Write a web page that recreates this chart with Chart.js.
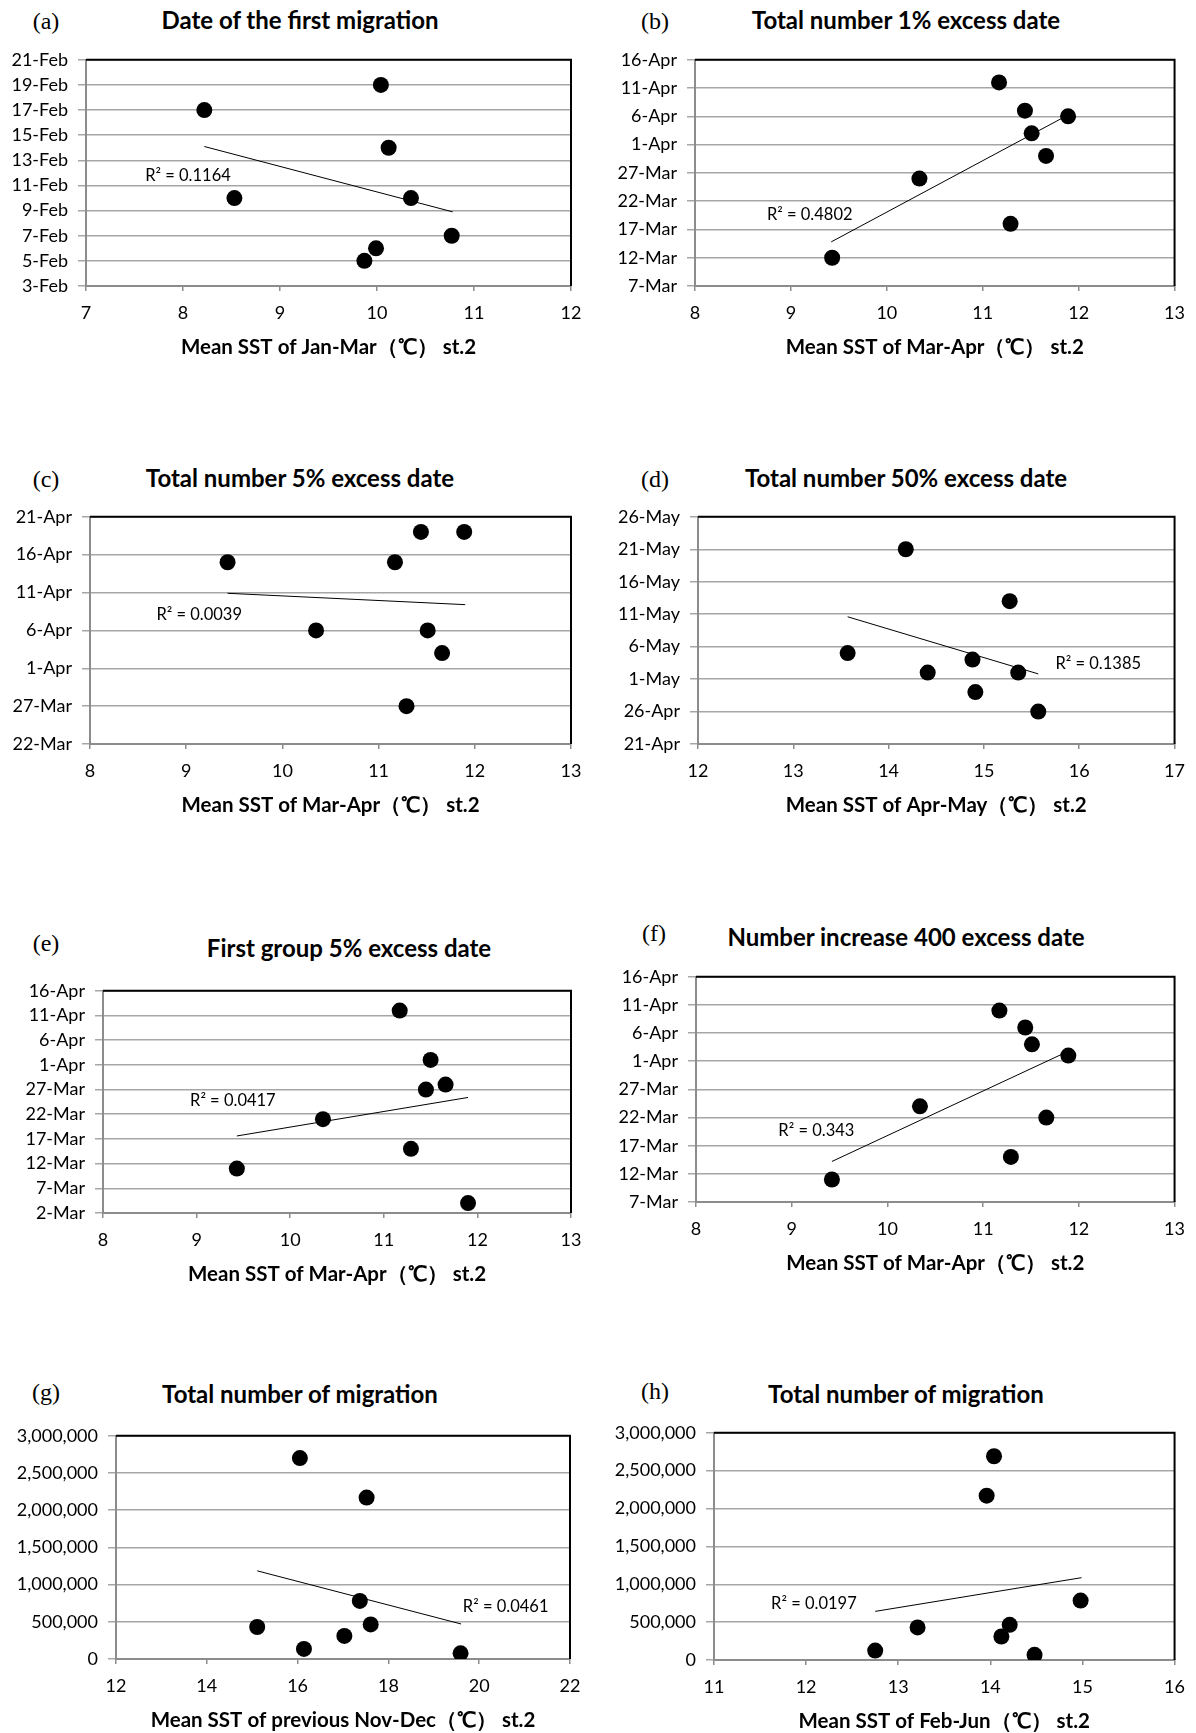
<!DOCTYPE html>
<html>
<head>
<meta charset="utf-8">
<script src="https://cdn.jsdelivr.net/npm/chart.js@4.4.1/dist/chart.umd.min.js"></script>
<style>
    html, body { margin: 0; padding: 0; background: #fff; overflow: hidden; }
    body { width: 1196px; height: 1733px; position: relative; font-family: Lato, "Noto Sans", sans-serif; color: #000; }
    .panel { position: absolute; }
    .title { position: absolute; transform: translate(-50%, -50%); font-weight: bold; font-size: 24px; white-space: nowrap; }
    .tag { position: absolute; transform: translate(-50%, -50%); font-family: "Liberation Serif", "DejaVu Serif", serif; font-size: 24px; }
</style>
</head>
<body>
<script>
// ---- data ----
const monthStarts = { Jan: 0, Feb: 31, Mar: 59, Apr: 90, May: 120, Jun: 151 };

// (a) date of the first migration vs mean SST Jan-Mar
const sstJanMar = [8.22, 10.04, 10.12, 8.53, 10.35, 10.77, 9.99, 9.87];
const firstMigrationDate = ['17-Feb', '19-Feb', '14-Feb', '10-Feb', '10-Feb', '7-Feb', '6-Feb', '5-Feb'];
const trendAx = [8.22, 10.78];
const trendAy = ['14.1-Feb', '8.9-Feb'];
const yTicksA = ['3-Feb', '5-Feb', '7-Feb', '9-Feb', '11-Feb', '13-Feb', '15-Feb', '17-Feb', '19-Feb', '21-Feb'];
const xTicksA = [7, 8, 9, 10, 11, 12];

// (b) total number 1% excess date vs mean SST Mar-Apr
const sstMarAprB = [11.17, 11.44, 11.89, 11.51, 11.66, 10.34, 11.29, 9.43];
const excess1Date = ['12-Apr', '7-Apr', '6-Apr', '3-Apr', '30-Mar', '26-Mar', '18-Mar', '12-Mar'];
const trendBx = [9.42, 11.83];
const trendBy = ['14.8-Mar', '5.7-Apr'];
const yTicksB = ['7-Mar', '12-Mar', '17-Mar', '22-Mar', '27-Mar', '1-Apr', '6-Apr', '11-Apr', '16-Apr'];
const xTicksB = [8, 9, 10, 11, 12, 13];

// (c) total number 5% excess date vs mean SST Mar-Apr
const sstMarAprC = [11.44, 11.89, 9.43, 11.17, 10.35, 11.51, 11.66, 11.29];
const excess5Date = ['19-Apr', '19-Apr', '15-Apr', '15-Apr', '6-Apr', '6-Apr', '3-Apr', '27-Mar'];
const trendCx = [9.43, 11.9];
const trendCy = ['10.9-Apr', '9.4-Apr'];
const yTicksC = ['22-Mar', '27-Mar', '1-Apr', '6-Apr', '11-Apr', '16-Apr', '21-Apr'];
const xTicksC = [8, 9, 10, 11, 12, 13];

// (d) total number 50% excess date vs mean SST Apr-May
const sstAprMay = [14.18, 15.27, 13.57, 14.88, 14.41, 15.36, 14.91, 15.57];
const excess50Date = ['21-May', '13-May', '5-May', '4-May', '2-May', '2-May', '29-Apr', '26-Apr'];
const trendDx = [13.57, 15.57];
const trendDy = ['10.6-May', '1.8-May'];
const yTicksD = ['21-Apr', '26-Apr', '1-May', '6-May', '11-May', '16-May', '21-May', '26-May'];
const xTicksD = [12, 13, 14, 15, 16, 17];

// (e) first group 5% excess date vs mean SST Mar-Apr
const sstMarAprE = [11.17, 11.50, 11.66, 11.45, 10.35, 11.29, 9.43, 11.90];
const firstGroupDate = ['12-Apr', '2-Apr', '28-Mar', '27-Mar', '21-Mar', '15-Mar', '11-Mar', '4-Mar'];
const trendEx = [9.43, 11.9];
const trendEy = ['17.6-Mar', '25.4-Mar'];
const yTicksE = ['2-Mar', '7-Mar', '12-Mar', '17-Mar', '22-Mar', '27-Mar', '1-Apr', '6-Apr', '11-Apr', '16-Apr'];
const xTicksE = [8, 9, 10, 11, 12, 13];

// (f) number increase 400 excess date vs mean SST Mar-Apr
const sstMarAprF = [11.17, 11.44, 11.51, 11.89, 10.34, 11.66, 11.29, 9.42];
const increase400Date = ['10-Apr', '7-Apr', '4-Apr', '2-Apr', '24-Mar', '22-Mar', '15-Mar', '11-Mar'];
const trendFx = [9.42, 11.83];
const trendFy = ['14.2-Mar', '2.3-Apr'];
const yTicksF = ['7-Mar', '12-Mar', '17-Mar', '22-Mar', '27-Mar', '1-Apr', '6-Apr', '11-Apr', '16-Apr'];
const xTicksF = [8, 9, 10, 11, 12, 13];

// (g) total number of migration vs mean SST of previous Nov-Dec
const sstNovDec = [16.05, 17.52, 17.37, 17.61, 15.11, 17.03, 16.14, 19.59];
const totalG = [2700000, 2170000, 780000, 465000, 430000, 310000, 135000, 76000];
const trendGx = [15.11, 19.6];
const trendGy = [1185000, 471000];
const yTicksCount = [0, 500000, 1000000, 1500000, 2000000, 2500000, 3000000];
const xTicksG = [12, 14, 16, 18, 20, 22];

// (h) total number of migration vs mean SST Feb-Jun
const sstFebJun = [14.04, 13.96, 14.98, 14.21, 13.21, 14.12, 12.75, 14.48];
const totalH = [2690000, 2170000, 785000, 465000, 430000, 310000, 125000, 68000];
const trendHx = [12.75, 14.99];
const trendHy = [642000, 1087000];
const xTicksH = [11, 12, 13, 14, 15, 16];

// day of year from "d-Mon" (day may be fractional)
const toDay = (s) => {
    if (typeof s === 'number') return s;
    const [d, m] = s.split('-');
    return monthStarts[m] + parseFloat(d);
};

const panels = [
    { tag: '(a)', tagPos: [46, 21], title: 'Date of the first migration', titlePos: [300, 19],
      xTitle: 'Mean SST of Jan-Mar（℃） st.2', xs: sstJanMar, ys: firstMigrationDate,
      tx: trendAx, ty: trendAy, xTicks: xTicksA, yTicks: yTicksA,
      r2: 'R² = 0.1164', r2At: [7.61, '11.8-Feb'], col: 0, box: { l: 86, r: 571, t: 53, b: 286 } },
    { tag: '(b)', tagPos: [655, 21], title: 'Total number 1% excess date', titlePos: [906, 19],
      xTitle: 'Mean SST of Mar-Apr（℃） st.2', xs: sstMarAprB, ys: excess1Date,
      tx: trendBx, ty: trendBy, xTicks: xTicksB, yTicks: yTicksB,
      r2: 'R² = 0.4802', r2At: [8.75, '19.7-Mar'], col: 600, box: { l: 695, r: 1178, t: 53, b: 286 } },
    { tag: '(c)', tagPos: [46, 479], title: 'Total number 5% excess date', titlePos: [300, 477],
      xTitle: 'Mean SST of Mar-Apr（℃） st.2', xs: sstMarAprC, ys: excess5Date,
      tx: trendCx, ty: trendCy, xTicks: xTicksC, yTicks: yTicksC,
      r2: 'R² = 0.0039', r2At: [8.69, '8.1-Apr'], col: 0, box: { l: 90, r: 571, t: 510, b: 744 } },
    { tag: '(d)', tagPos: [655, 479], title: 'Total number 50% excess date', titlePos: [906, 477],
      xTitle: 'Mean SST of Apr-May（℃） st.2', xs: sstAprMay, ys: excess50Date,
      tx: trendDx, ty: trendDy, xTicks: xTicksD, yTicks: yTicksD,
      r2: 'R² = 0.1385', r2At: [15.75, '3.3-May'], col: 600, box: { l: 698, r: 1178, t: 510, b: 744 } },
    { tag: '(e)', tagPos: [46, 943], title: 'First group 5% excess date', titlePos: [349, 947],
      xTitle: 'Mean SST of Mar-Apr（℃） st.2', xs: sstMarAprE, ys: firstGroupDate,
      tx: trendEx, ty: trendEy, xTicks: xTicksE, yTicks: yTicksE,
      r2: 'R² = 0.0417', r2At: [8.93, '24.7-Mar'], col: 0, box: { l: 103, r: 571, t: 984, b: 1213 } },
    { tag: '(f)', tagPos: [654, 933], title: 'Number increase 400 excess date', titlePos: [906, 936],
      xTitle: 'Mean SST of Mar-Apr（℃） st.2', xs: sstMarAprF, ys: increase400Date,
      tx: trendFx, ty: trendFy, xTicks: xTicksF, yTicks: yTicksF,
      r2: 'R² = 0.343', r2At: [8.86, '19.6-Mar'], col: 600, box: { l: 696, r: 1178, t: 970, b: 1202 } },
    { tag: '(g)', tagPos: [46, 1392], title: 'Total number of migration', titlePos: [300, 1393],
      xTitle: 'Mean SST of previous Nov-Dec（℃） st.2', xs: sstNovDec, ys: totalG,
      tx: trendGx, ty: trendGy, xTicks: xTicksG, yTicks: yTicksCount,
      r2: 'R² = 0.0461', r2At: [19.64, 710000], col: 0, box: { l: 116, r: 570, t: 1429, b: 1659 } },
    { tag: '(h)', tagPos: [655, 1391], title: 'Total number of migration', titlePos: [906, 1393],
      xTitle: 'Mean SST of Feb-Jun（℃） st.2', xs: sstFebJun, ys: totalH,
      tx: trendHx, ty: trendHy, xTicks: xTicksH, yTicks: yTicksCount,
      r2: 'R² = 0.0197', r2At: [11.62, 739000], col: 600, box: { l: 714, r: 1178, t: 1426, b: 1660 } }
];

const GRID = '#a6a6a6';
const AXIS = '#8c8c8c';
const PAD_TOP = 14;
const X_AXIS_H = 82;
const PANEL_W = 596;

// black top/right frame plus the R² label
const frameAndLabel = {
    id: 'frameAndLabel',
    afterDraw(chart, args, opts) {
        const { ctx, chartArea: a, scales } = chart;
        ctx.save();
        ctx.strokeStyle = '#000';
        ctx.lineWidth = 2;
        ctx.beginPath();
        ctx.moveTo(a.left, a.top);
        ctx.lineTo(a.right, a.top);
        ctx.lineTo(a.right, a.bottom);
        ctx.stroke();
        ctx.fillStyle = '#000';
        ctx.font = '16.5px Lato';
        ctx.textAlign = 'left';
        ctx.textBaseline = 'middle';
        ctx.fillText(opts.text, scales.x.getPixelForValue(opts.x), scales.y.getPixelForValue(toDay(opts.y)));
        ctx.restore();
    }
};

const tickFont = { family: 'Lato', size: 18 };
const fmtTick = (t) => typeof t === 'number' ? t.toLocaleString('en-US') : t;

panels.forEach((p) => {
    const tag = document.createElement('div');
    tag.className = 'tag';
    tag.textContent = p.tag;
    tag.style.left = p.tagPos[0] + 'px';
    tag.style.top = p.tagPos[1] + 'px';
    document.body.appendChild(tag);

    const title = document.createElement('div');
    title.className = 'title';
    title.textContent = p.title;
    title.style.left = p.titlePos[0] + 'px';
    title.style.top = p.titlePos[1] + 'px';
    document.body.appendChild(title);

    const wrap = document.createElement('div');
    wrap.className = 'panel';
    const h = PAD_TOP + (p.box.b - p.box.t) + X_AXIS_H;
    wrap.style.left = p.col + 'px';
    wrap.style.top = (p.box.t - PAD_TOP) + 'px';
    wrap.style.width = PANEL_W + 'px';
    wrap.style.height = h + 'px';
    const canvas = document.createElement('canvas');
    wrap.appendChild(canvas);
    document.body.appendChild(wrap);

    const yVals = p.yTicks.map(toDay);
    const yWidth = p.box.l - p.col;

    new Chart(canvas.getContext('2d'), {
        type: 'scatter',
        data: {
            datasets: [
                {
                    data: p.tx.map((x, i) => ({ x, y: toDay(p.ty[i]) })),
                    showLine: true,
                    borderColor: '#000',
                    borderWidth: 1,
                    pointRadius: 0,
                    order: 0
                },
                {
                    data: p.xs.map((x, i) => ({ x, y: toDay(p.ys[i]) })),
                    backgroundColor: '#000',
                    borderWidth: 0,
                    pointRadius: 8,
                    order: 1
                }
            ]
        },
        options: {
            responsive: true,
            maintainAspectRatio: false,
            animation: false,
            layout: { padding: { top: PAD_TOP, right: p.col + PANEL_W - p.box.r, left: 0, bottom: 0 } },
            plugins: {
                legend: { display: false },
                tooltip: { enabled: false },
                frameAndLabel: { text: p.r2, x: p.r2At[0], y: p.r2At[1] }
            },
            scales: {
                x: {
                    type: 'linear',
                    min: p.xTicks[0],
                    max: p.xTicks[p.xTicks.length - 1],
                    afterBuildTicks: (s) => { s.ticks = p.xTicks.map(v => ({ value: v })); },
                    afterFit: (s) => { s.height = X_AXIS_H; },
                    grid: { drawOnChartArea: false, drawTicks: true, tickLength: 5, color: AXIS, lineWidth: 1.5 },
                    border: { color: AXIS, width: 2 },
                    ticks: { color: '#000', font: tickFont, padding: 11, maxRotation: 0,
                             callback: (v, i) => fmtTick(p.xTicks[i]) },
                    title: { display: true, text: p.xTitle, color: '#000',
                             font: { family: 'Lato', size: 20.5, weight: 'bold' },
                             padding: { top: 0, bottom: 8 } }
                },
                y: {
                    type: 'linear',
                    min: yVals[0],
                    max: yVals[yVals.length - 1],
                    afterBuildTicks: (s) => { s.ticks = yVals.map(v => ({ value: v })); },
                    afterFit: (s) => { s.width = yWidth; },
                    grid: { color: GRID, lineWidth: 1.5, drawTicks: true, tickLength: 8 },
                    border: { color: AXIS, width: 2 },
                    ticks: { color: '#000', font: tickFont, padding: 10,
                             callback: (v, i) => fmtTick(p.yTicks[i]) }
                }
            }
        },
        plugins: [frameAndLabel]
    });
});
</script>
</body>
</html>
